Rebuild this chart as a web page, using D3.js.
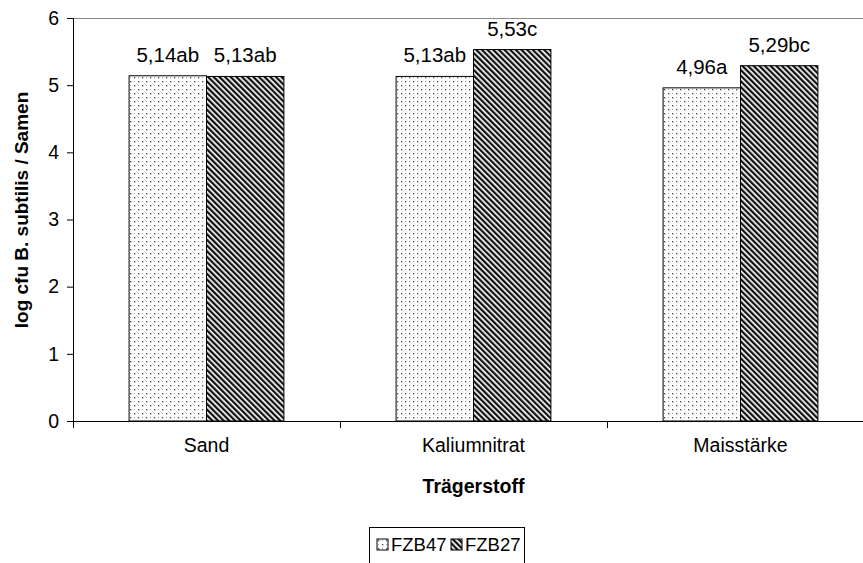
<!DOCTYPE html>
<html><head><meta charset="utf-8">
<script src="https://cdn.jsdelivr.net/npm/d3@7/dist/d3.min.js"></script>
<style>body{margin:0;background:#fff}svg{display:block;font-family:"Liberation Sans",Arial,sans-serif}</style>
</head><body><svg id="c" width="863" height="563"></svg>
<script>
const categories = ["Sand", "Kaliumnitrat", "Maisstärke"];
const seriesNames = ["FZB47", "FZB27"];
const fzb47 = [5.14, 5.13, 4.96];
const fzb27 = [5.13, 5.53, 5.29];
const labels47 = ["5,14ab", "5,13ab", "4,96a"];
const labels27 = ["5,13ab", "5,53c", "5,29bc"];
const yTicks = [0, 1, 2, 3, 4, 5, 6];

(function(){
const svg = d3.select("#c");
const mL = 73, mR = 874, mT = 18, mB = 421;
const defs = svg.append("defs");
const dots = defs.append("pattern").attr("id","dots").attr("patternUnits","userSpaceOnUse").attr("width",8).attr("height",8);
dots.append("rect").attr("width",8).attr("height",8).attr("fill","#fff");
dots.append("rect").attr("x",1).attr("y",1).attr("width",1.3).attr("height",1.3).attr("fill","#444");
dots.append("rect").attr("x",5).attr("y",5).attr("width",1.3).attr("height",1.3).attr("fill","#444");
dots.append("rect").attr("x",5).attr("y",1).attr("width",1).attr("height",1).attr("fill","#aaa");
dots.append("rect").attr("x",1).attr("y",5).attr("width",1).attr("height",1).attr("fill","#aaa");
const hatch = defs.append("pattern").attr("id","hatch").attr("patternUnits","userSpaceOnUse").attr("width",4).attr("height",4).attr("patternTransform","rotate(-45)");
hatch.append("rect").attr("width",4).attr("height",4).attr("fill","#fff");
hatch.append("rect").attr("width",2.3).attr("height",4).attr("fill","#111");
const fills = ["url(#dots)", "url(#hatch)"];

const x = d3.scaleBand().domain(categories).range([mL, mR]).paddingInner(0).paddingOuter(0);
const xs = d3.scaleBand().domain(seriesNames).range([0, x.bandwidth()]).paddingOuter(0.7246).paddingInner(0);
const y = d3.scaleLinear().domain([0, 6]).range([mB, mT]);

svg.append("line").attr("x1",mL).attr("x2",863).attr("y1",mT+0.5).attr("y2",mT+0.5).attr("stroke","#888").attr("stroke-width",1);

const data = categories.map((c,i)=>({c, vals:[{s:seriesNames[0],v:fzb47[i],l:labels47[i]},{s:seriesNames[1],v:fzb27[i],l:labels27[i]}]}));
const g = svg.append("g").selectAll("g").data(data).join("g").attr("transform",d=>`translate(${x(d.c)},0)`);
g.selectAll("rect").data(d=>d.vals).join("rect")
  .attr("x",d=>xs(d.s)).attr("width",xs.bandwidth())
  .attr("y",d=>y(d.v)).attr("height",d=>mB-y(d.v))
  .attr("fill",(d,i)=>fills[i]).attr("stroke","#000").attr("stroke-width",1);
g.selectAll("text").data(d=>d.vals).join("text")
  .attr("x",d=>xs(d.s)+xs.bandwidth()/2).attr("y",d=>y(d.v)-14)
  .attr("text-anchor","middle").attr("font-size",20.5).attr("fill","#000").text(d=>d.l);

const yAxis = svg.append("g").attr("transform",`translate(${mL},0)`).call(d3.axisLeft(y).tickValues(yTicks).tickSize(6).tickPadding(8).tickFormat(d3.format("d")));
yAxis.select(".domain").attr("stroke","#000");
yAxis.selectAll("text").attr("font-size",19.5).attr("fill","#000").attr("font-family","Liberation Sans, Arial, sans-serif");
const xAxis = svg.append("g").attr("transform",`translate(0,${mB})`).call(d3.axisBottom(x).tickSize(0).tickPadding(17));
xAxis.select(".domain").attr("stroke","#000").attr("d",`M${mL},0.5H863`);
xAxis.selectAll("text").attr("font-size",19.5).attr("fill","#000").attr("font-family","Liberation Sans, Arial, sans-serif");
svg.append("g").selectAll("line").data(categories.map(c=>x(c)).concat([mR])).join("line")
  .attr("x1",d=>d+0.5).attr("x2",d=>d+0.5).attr("y1",mB).attr("y2",mB+7).attr("stroke","#000");

svg.append("text").attr("x",(mL+mR)/2).attr("y",493).attr("text-anchor","middle").attr("font-size",19.5).attr("font-weight","bold").text("Trägerstoff");
svg.append("text").attr("transform",`translate(28,${210}) rotate(-90)`).attr("text-anchor","middle").attr("font-size",19).attr("font-weight","bold").text("log cfu B. subtilis / Samen");

const lg = svg.append("g");
lg.append("rect").attr("x",369.5).attr("y",527.5).attr("width",155).attr("height",45).attr("fill","#fff").attr("stroke","#000");
const items = lg.selectAll("g").data(seriesNames).join("g").attr("transform",(d,i)=>`translate(${377+i*74},539)`);
items.append("rect").attr("width",11).attr("height",11).attr("fill",(d,i)=>fills[i]).attr("stroke","#000");
items.append("text").attr("x",14).attr("y",12).attr("font-size",18.5).text(d=>d);
})();
</script></body></html>
